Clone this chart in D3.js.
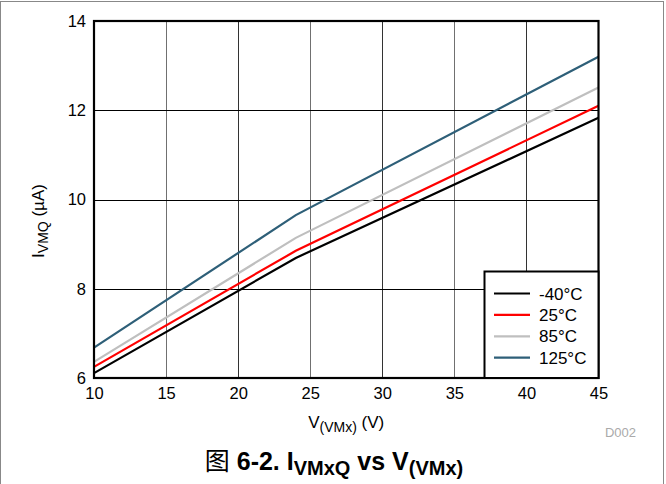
<!DOCTYPE html>
<html>
<head>
<meta charset="utf-8">
<script src="https://cdn.jsdelivr.net/npm/d3@7"></script>
<style>
  body { margin: 0; background: #fff; }
  text { font-family: "Liberation Sans", Arial, sans-serif; }
</style>
</head>
<body>
<div id="chartDiv"></div>
<script>
// data
var voltages = [10, 24, 45];
var seriesNames = ["-40\u00B0C", "25\u00B0C", "85\u00B0C", "125\u00B0C"];
var seriesColors = ["#000000", "#ff0000", "#bfbfbf", "#2e5f78"];
var iMinus40 = [6.11, 8.69, 11.83];
var i25 = [6.25, 8.85, 12.1];
var i85 = [6.36, 9.14, 12.51];
var i125 = [6.68, 9.65, 13.2];
var xTicks = [10, 15, 20, 25, 30, 35, 40, 45];
var yTicks = [6, 8, 10, 12, 14];

var allSeries = [iMinus40, i25, i85, i125];

var width = 666, height = 484;
var margin = {top: 21, right: 67.5, bottom: 106, left: 94};

var svg = d3.select("#chartDiv")
  .append("svg")
    .attr("width", width)
    .attr("height", height);

// outer frame
svg.append("rect")
  .attr("x", 0.5).attr("y", 1.5)
  .attr("width", 663).attr("height", 490)
  .attr("fill", "none")
  .attr("stroke", "#888")
  .attr("stroke-width", 1);

var x = d3.scaleLinear()
  .domain([10, 45])
  .range([margin.left, width - margin.right]);

var y = d3.scaleLinear()
  .domain([6, 14])
  .range([height - margin.bottom, margin.top]);

// grid
svg.append("g")
  .selectAll("line")
  .data(xTicks.slice(1, -1))
  .enter()
  .append("line")
    .attr("x1", function(d) { return Math.round(x(d)) + 0.5; })
    .attr("x2", function(d) { return Math.round(x(d)) + 0.5; })
    .attr("y1", y(14))
    .attr("y2", y(6))
    .attr("stroke", function(d, i) { return i % 2 == 0 ? "#707070" : "#333"; })
    .attr("stroke-width", 1);

svg.append("g")
  .selectAll("line")
  .data(yTicks.slice(1, -1))
  .enter()
  .append("line")
    .attr("x1", x(10))
    .attr("x2", x(45))
    .attr("y1", function(d) { return Math.round(y(d)) + 0.5; })
    .attr("y2", function(d) { return Math.round(y(d)) + 0.5; })
    .attr("stroke", "#000")
    .attr("stroke-width", 1);

// lines
var line = d3.line()
  .x(function(d, i) { return x(voltages[i]); })
  .y(function(d) { return y(d); });

svg.append("g")
  .selectAll("path")
  .data(allSeries)
  .enter()
  .append("path")
    .attr("d", line)
    .attr("fill", "none")
    .attr("stroke", function(d, i) { return seriesColors[i]; })
    .attr("stroke-width", 2.2);

// plot frame
svg.append("rect")
  .attr("x", x(10)).attr("y", y(14))
  .attr("width", x(45) - x(10))
  .attr("height", y(6) - y(14))
  .attr("fill", "none")
  .attr("stroke", "#000")
  .attr("stroke-width", 2.2);

// axes
var xAxis = svg.append("g")
  .attr("transform", "translate(0," + y(6) + ")")
  .call(d3.axisBottom(x).tickValues(xTicks).tickSize(0).tickPadding(9));
xAxis.select(".domain").remove();
xAxis.selectAll("text")
  .style("font-size", "16.5px")
  .attr("fill", "#000");

var yAxis = svg.append("g")
  .attr("transform", "translate(" + x(10) + ",0)")
  .call(d3.axisLeft(y).tickValues(yTicks).tickSize(0).tickPadding(8));
yAxis.select(".domain").remove();
yAxis.selectAll("text")
  .style("font-size", "16.5px")
  .attr("fill", "#000");

// axis titles
var xTitle = svg.append("text")
  .attr("x", (x(10) + x(45)) / 2)
  .attr("y", 428)
  .attr("text-anchor", "middle")
  .style("font-size", "17px");
xTitle.append("tspan").text("V");
xTitle.append("tspan").attr("dy", 4).style("font-size", "14px").text("(VMx)");
xTitle.append("tspan").attr("dy", -4).text(" (V)");

var yTitle = svg.append("text")
  .attr("transform", "translate(44,221) rotate(-90)")
  .attr("text-anchor", "middle")
  .style("font-size", "17px");
yTitle.append("tspan").text("I");
yTitle.append("tspan").attr("dy", 4).style("font-size", "14px").text("VMQ");
yTitle.append("tspan").attr("dy", -4).text(" (\u00B5A)");

// D002 label
svg.append("text")
  .attr("x", 636)
  .attr("y", 437)
  .attr("text-anchor", "end")
  .style("font-size", "13px")
  .attr("fill", "#aaa")
  .text("D002");

// legend
var legend = svg.append("g");
legend.append("rect")
  .attr("x", 484.5).attr("y", 271.5)
  .attr("width", x(45) - 484.5)
  .attr("height", y(6) - 271.5)
  .attr("fill", "#fff")
  .attr("stroke", "#000")
  .attr("stroke-width", 2);
var items = legend.selectAll("g.item")
  .data(seriesNames)
  .enter()
  .append("g")
    .attr("class", "item")
    .attr("transform", function(d, i) { return "translate(0," + (293.5 + i * 21.4) + ")"; });
items.append("line")
  .attr("x1", 494).attr("x2", 530)
  .attr("y1", 0).attr("y2", 0)
  .attr("stroke", function(d, i) { return seriesColors[i]; })
  .attr("stroke-width", 2.2);
items.append("text")
  .attr("x", 539)
  .attr("y", 6)
  .style("font-size", "17px")
  .text(function(d) { return d; });

// figure caption
var cap = svg.append("text")
  .attr("x", 334)
  .attr("y", 470)
  .attr("text-anchor", "middle")
  .style("font-size", "25px")
  .style("font-weight", "bold");
cap.append("tspan").style("font-family", "'Noto Sans CJK SC', sans-serif").style("font-weight", "normal").text("\u56FE");
cap.append("tspan").text(" 6-2. I");
cap.append("tspan").attr("dy", 5).style("font-size", "20px").text("VMxQ");
cap.append("tspan").attr("dy", -5).text(" vs V");
cap.append("tspan").attr("dy", 5).style("font-size", "20px").text("(VMx)");
</script>
</body>
</html>
